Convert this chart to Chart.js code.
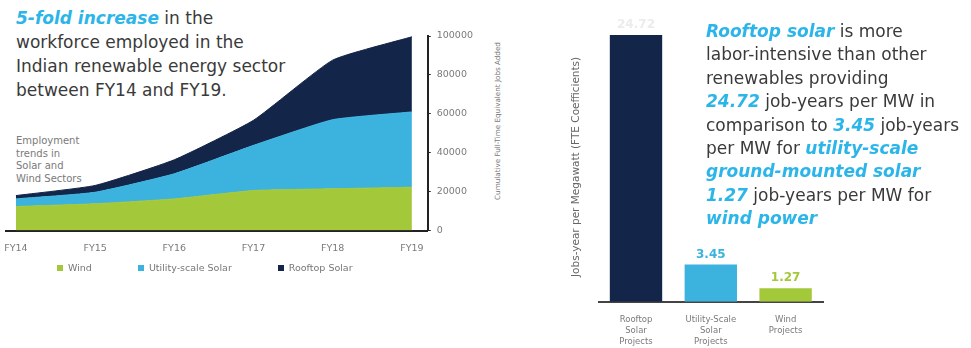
<!DOCTYPE html>
<html>
<head>
<meta charset="utf-8">
<script src="https://cdn.jsdelivr.net/npm/chart.js@4.4.1/dist/chart.umd.min.js"></script>
<style>
  body { margin: 0; width: 971px; height: 348px; overflow: hidden; background: #fff; position: relative; font-family: "DejaVu Sans", sans-serif; }
  canvas { position: absolute; }
  .txt { position: absolute; white-space: nowrap; color: #3a3a3a; font-size: 17px; line-height: 24px; }
  .hl { color: #2cb5e8; font-weight: bold; font-style: italic; }
  #note { position: absolute; left: 16px; top: 135px; font-size: 10px; line-height: 12.5px; color: #7a7a7a; }
  #yTitle { position: absolute; left: 497px; top: 121px; transform: translate(-50%, -50%) rotate(-90deg); font-size: 7.2px; color: #777; white-space: nowrap; }
  #legend { position: absolute; left: 57px; top: 262px; display: flex; font-size: 9.5px; color: #777; line-height: 12px; }
  #legend span.item { display: flex; align-items: center; margin-right: 46px; }
  #legend i { display: inline-block; width: 6px; height: 6px; margin-right: 5px; }
</style>
</head>
<body>
<div class="txt" style="left:16px;top:6px;"><span class="hl">5-fold increase</span> in the<br>workforce employed in the<br>Indian renewable energy sector<br>between FY14 and FY19.</div>
<div id="note">Employment<br>trends in<br>Solar and<br>Wind Sectors</div>
<canvas id="areaChart" width="490" height="270" style="left:0;top:0;"></canvas>
<div id="yTitle">Cumulative Full-Time Equivalent Jobs Added</div>
<div id="legend"></div>
<canvas id="barChart" width="280" height="359" style="left:560px;top:0;"></canvas>
<div class="txt" style="left:706px;top:20px;line-height:23.4px;"><span class="hl">Rooftop solar</span> is more<br>labor-intensive than other<br>renewables providing<br><span class="hl">24.72</span> job-years per MW in<br>comparison to <span class="hl">3.45</span> job-years<br>per MW for <span class="hl">utility-scale</span><br><span class="hl">ground-mounted solar</span><br><span class="hl">1.27</span> job-years per MW for<br><span class="hl">wind power</span></div>
<script>
// ---- data ----
const years = ['FY14', 'FY15', 'FY16', 'FY17', 'FY18', 'FY19'];
const windJobs = [12400, 13800, 16300, 20600, 21500, 22300];
const utilityJobs = [3900, 5900, 12900, 23200, 35500, 38700];
const rooftopJobs = [1700, 3500, 7200, 12900, 30600, 38600];

const projectLabels = [['Rooftop', 'Solar', 'Projects'], ['Utility-Scale', 'Solar', 'Projects'], ['Wind', 'Projects']];
const jobsPerMW = [24.72, 3.45, 1.27];

// ---- colours ----
const green = '#a3c83a';
const blue = '#3cb2de';
const navy = '#14254a';
const valueColors = ['#ececec', blue, green];

// area chart uses a linear x axis so the plot can run a little past FY14 / FY19
const toPoints = arr => arr.map((v, i) => ({ x: i, y: v }));

// legend drawn as html so it can sit where the original one is
const htmlLegend = {
  id: 'htmlLegend',
  afterUpdate(chart) {
    const box = document.getElementById('legend');
    box.innerHTML = '';
    Chart.defaults.plugins.legend.labels.generateLabels(chart).forEach(item => {
      const el = document.createElement('span');
      el.className = 'item';
      const sw = document.createElement('i');
      sw.style.background = item.fillStyle;
      el.appendChild(sw);
      el.appendChild(document.createTextNode(item.text));
      box.appendChild(el);
    });
  }
};

new Chart(document.getElementById('areaChart'), {
  type: 'line',
  data: {
    datasets: [
      { label: 'Wind', data: toPoints(windJobs), backgroundColor: green, borderColor: green, fill: 'origin' },
      { label: 'Utility-scale Solar', data: toPoints(utilityJobs), backgroundColor: blue, borderColor: blue, fill: '-1' },
      { label: 'Rooftop Solar', data: toPoints(rooftopJobs), backgroundColor: navy, borderColor: navy, fill: '-1' }
    ]
  },
  options: {
    responsive: false,
    animation: false,
    elements: { line: { borderWidth: 1, tension: 0.15 }, point: { radius: 0 } },
    layout: { padding: { top: 36, right: 11, bottom: 4, left: 6 } },
    plugins: { legend: { display: false }, tooltip: { enabled: false } },
    scales: {
      x: {
        type: 'linear',
        min: -0.125,
        max: 5.2,
        afterBuildTicks: scale => { scale.ticks = years.map((_, i) => ({ value: i })); },
        afterFit: scale => { scale.paddingLeft = 0; scale.paddingRight = 0; },
        grid: { display: false, drawTicks: false },
        border: { display: true, color: '#222', width: 2 },
        ticks: { callback: v => years[v], color: '#7a7a7a', font: { family: 'DejaVu Sans', size: 9.5 }, padding: 12, maxRotation: 0 }
      },
      y: {
        position: 'right',
        stacked: true,
        min: 0,
        max: 100000,
        grid: { drawOnChartArea: false, color: '#222', tickLength: 3 },
        border: { color: '#222', width: 2 },
        ticks: { stepSize: 20000, callback: v => String(v), color: '#7a7a7a', font: { family: 'DejaVu Sans', size: 9.5 }, padding: 6 }
      }
    }
  },
  plugins: [htmlLegend]
});

// numbers above the bars
const barValues = {
  id: 'barValues',
  afterDatasetsDraw(chart) {
    const ctx = chart.ctx;
    ctx.save();
    ctx.font = 'bold 12px "DejaVu Sans"';
    ctx.textAlign = 'center';
    ctx.textBaseline = 'bottom';
    chart.getDatasetMeta(0).data.forEach((bar, i) => {
      ctx.fillStyle = valueColors[i];
      ctx.fillText(jobsPerMW[i].toFixed(2), bar.x, bar.y - 4);
    });
    ctx.restore();
  }
};

new Chart(document.getElementById('barChart'), {
  type: 'bar',
  data: {
    labels: projectLabels,
    datasets: [{ data: jobsPerMW, backgroundColor: [navy, blue, green], barPercentage: 0.7, categoryPercentage: 1 }]
  },
  options: {
    responsive: false,
    animation: false,
    layout: { padding: { top: 32, right: 17, bottom: 0, left: 0 } },
    plugins: { legend: { display: false }, tooltip: { enabled: false } },
    scales: {
      x: {
        grid: { display: false, drawTicks: false },
        border: { color: '#444', width: 2 },
        ticks: { color: '#7a7a7a', font: { family: 'DejaVu Sans', size: 8.5, lineHeight: 1.3 }, padding: 12, maxRotation: 0 }
      },
      y: {
        min: 0,
        max: 25,
        ticks: { display: false },
        grid: { display: false, drawTicks: false },
        border: { display: false },
        title: { display: true, text: 'Jobs-year per Megawatt (FTE Coefficients)', color: '#666', font: { family: 'DejaVu Sans', size: 10.5 }, padding: { top: 10, bottom: 16 } }
      }
    }
  },
  plugins: [barValues]
});
</script>
</body>
</html>
